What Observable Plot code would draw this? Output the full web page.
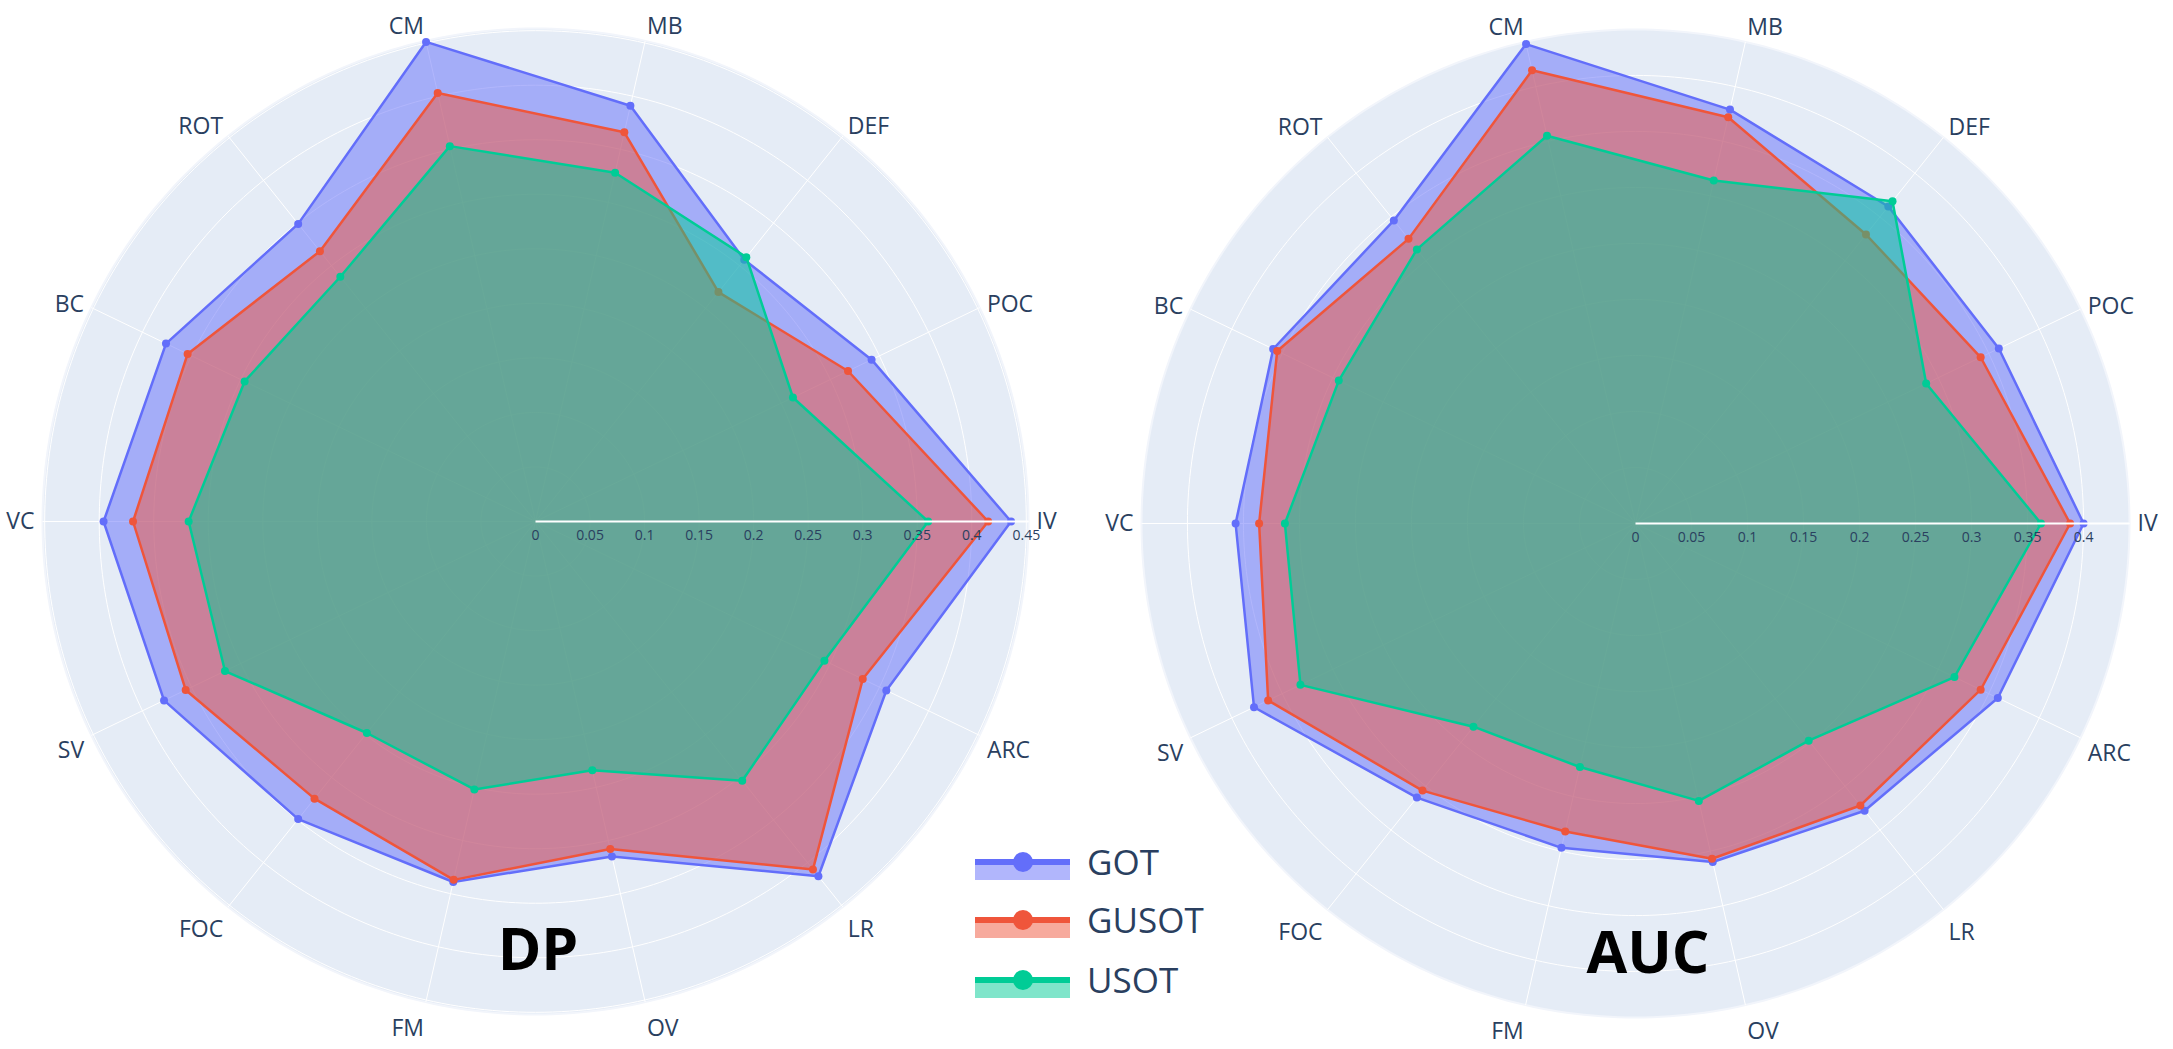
<!DOCTYPE html>
<html><head><meta charset="utf-8">
<script src="https://cdn.jsdelivr.net/npm/d3@7"></script>
<script src="https://cdn.jsdelivr.net/npm/@observablehq/plot@0.6"></script>
<style>
body{margin:0;background:#fff;}
#wrap{position:relative;width:2173px;height:1049px;overflow:hidden;font-family:"Open Sans",sans-serif;}
.chart{position:absolute;top:0;}
.chart svg{background:transparent !important;max-width:none !important;}
.title{position:absolute;font-family:"Open Sans",sans-serif;font-weight:700;font-size:59px;line-height:59px;color:#000;transform:translateX(-50%);white-space:nowrap;}
#legend{position:absolute;left:960px;top:820px;}
</style></head><body>
<div id="wrap">
  <div id="dp" class="chart" style="left:0"></div>
  <div id="auc" class="chart" style="left:1100px"></div>
  <div id="legend"></div>
</div>
<script>
const categories = ["IV","POC","DEF","MB","CM","ROT","BC","VC","SV","FOC","FM","OV","LR","ARC"];
const seriesNames = ["GOT","GUSOT","USOT"];
const seriesColors = ["#636efa","#ef553b","#00cc96"];
const chartTitles = ["DP","AUC"];

const dpGOT   = [0.436,0.342,0.307,0.391,0.451,0.349,0.376,0.396,0.378,0.349,0.339,0.315,0.416,0.357];
const dpGUSOT = [0.415,0.318,0.269,0.366,0.403,0.317,0.354,0.369,0.356,0.325,0.337,0.308,0.408,0.333];
const dpUSOT  = [0.360,0.262,0.310,0.328,0.353,0.287,0.296,0.318,0.316,0.248,0.252,0.234,0.304,0.294];

const aucGOT   = [0.400,0.360,0.362,0.379,0.439,0.346,0.359,0.357,0.378,0.313,0.297,0.310,0.328,0.359];
const aucGUSOT = [0.388,0.342,0.330,0.372,0.415,0.325,0.355,0.336,0.364,0.305,0.282,0.307,0.322,0.342];
const aucUSOT  = [0.362,0.288,0.368,0.314,0.355,0.313,0.294,0.313,0.332,0.232,0.223,0.254,0.248,0.316];

const dpTicks = [0,0.05,0.1,0.15,0.2,0.25,0.3,0.35,0.4,0.45];
const dpTickLabels = ["0","0.05","0.1","0.15","0.2","0.25","0.3","0.35","0.4","0.45"];
const aucTicks = [0,0.05,0.1,0.15,0.2,0.25,0.3,0.35,0.4];
const aucTickLabels = ["0","0.05","0.1","0.15","0.2","0.25","0.3","0.35","0.4"];
const dpRangeMax = 0.452;
const aucRangeMax = 0.441;

const textColor = "#2a3f5f";
const bgColor = "#e5ecf6";

function radar(el, values, ticks, tickLabels, rmax, L) {
  const n = categories.length;
  const ang = i => i * 2 * Math.PI / n;
  const unit = L.R / rmax;
  const rows = [];
  seriesNames.forEach((s, k) => values[k].forEach((v, i) =>
    rows.push({series: s, cat: categories[i], v, x: v * Math.cos(ang(i)), y: v * Math.sin(ang(i))})));
  const circle = r => d3.range(0, 360, 1).map(d => ({r, x: r * Math.cos(d * Math.PI / 180), y: r * Math.sin(d * Math.PI / 180)}));
  const grid = ticks.filter(t => t > 0).flatMap(circle);
  const outer = circle(rmax);
  const spokes = categories.map((c, i) => ({x1: 0, y1: 0, x2: rmax * Math.cos(ang(i)), y2: rmax * Math.sin(ang(i))}));
  const labels = categories.map((c, i) => {
    const a = ang(i), cs = Math.cos(a), sn = Math.sin(a);
    const s = 8 / unit;
    const extra = (-13 * sn + 6.5 * Math.min(1, 3 * Math.abs(sn))) / unit;
    return {text: c, x: (rmax + s) * cs, y: (rmax + s) * sn - extra,
      anchor: Math.abs(cs) < 0.01 ? "middle" : cs > 0 ? "start" : "end"};
  });
  const tickRows = ticks.map((t, i) => ({v: t, label: tickLabels[i]}));
  const marks = [
    Plot.line(outer, {x: "x", y: "y", curve: "linear-closed", fill: bgColor, stroke: "#f2f5fb", strokeWidth: 2}),
    Plot.line(grid, {x: "x", y: "y", z: "r", curve: "linear-closed", stroke: "white", strokeWidth: 1}),
    Plot.link(spokes, {x1: "x1", y1: "y1", x2: "x2", y2: "y2", stroke: "white", strokeWidth: 1}),
    ...seriesNames.flatMap((s, k) => {
      const d = rows.filter(r => r.series === s);
      return [
        Plot.line(d, {x: "x", y: "y", curve: "linear-closed", fill: seriesColors[k], fillOpacity: 0.5, stroke: seriesColors[k], strokeWidth: 2.5}),
        Plot.dot(d, {x: "x", y: "y", r: 4, fill: seriesColors[k]})
      ];
    }),
    Plot.link([{x1: 0, x2: rmax}], {x1: "x1", x2: "x2", y1: () => 0, y2: () => 0, stroke: "white", strokeWidth: 2}),
    Plot.text(tickRows, {x: "v", y: () => 0, text: "label", dy: 14, fontSize: 14, fill: textColor}),
    ...["start", "end", "middle"].map(a => Plot.text(labels.filter(l => l.anchor === a),
      {x: "x", y: "y", text: "text", textAnchor: a, lineAnchor: "middle", fontSize: 23, fill: textColor}))
  ];
  const chart = Plot.plot({
    width: L.width, height: L.height, margin: 0,
    x: {domain: [-rmax, rmax], range: [L.cx - L.R, L.cx + L.R], axis: null},
    y: {domain: [-rmax, rmax], range: [L.cy + L.R, L.cy - L.R], axis: null},
    style: {fontFamily: "Open Sans, sans-serif", background: "transparent"},
    marks
  });
  document.getElementById(el).appendChild(chart);
}

radar("dp", [dpGOT, dpGUSOT, dpUSOT], dpTicks, dpTickLabels, dpRangeMax,
  {width: 1100, height: 1049, cx: 535, cy: 521, R: 493});
radar("auc", [aucGOT, aucGUSOT, aucUSOT], aucTicks, aucTickLabels, aucRangeMax,
  {width: 1073, height: 1049, cx: 535, cy: 523, R: 494});

// chart titles
const titlePos = [{left: 538, top: 918}, {left: 1648, top: 921}];
chartTitles.forEach((t, i) => {
  const d = document.createElement("div");
  d.className = "title";
  d.textContent = t;
  d.style.left = titlePos[i].left + "px";
  d.style.top = titlePos[i].top + "px";
  document.getElementById("wrap").appendChild(d);
});

// legend
const lg = d3.select("#legend").append("svg").attr("width", 300).attr("height", 200);
const rowY = [42, 100, 160];
seriesNames.forEach((s, i) => {
  const g = lg.append("g").attr("transform", `translate(0,${rowY[i]})`);
  g.append("rect").attr("x", 15).attr("y", 0).attr("width", 95).attr("height", 18)
    .attr("fill", seriesColors[i]).attr("fill-opacity", 0.5);
  g.append("line").attr("x1", 15).attr("x2", 110).attr("y1", 0).attr("y2", 0)
    .attr("stroke", seriesColors[i]).attr("stroke-width", 6);
  g.append("circle").attr("cx", 63).attr("cy", 0).attr("r", 10).attr("fill", seriesColors[i]);
  g.append("text").attr("x", 127).attr("y", 12.5).text(s)
    .attr("font-family", "Open Sans, sans-serif").attr("font-size", 35).attr("fill", textColor);
});
</script>
</body></html>
